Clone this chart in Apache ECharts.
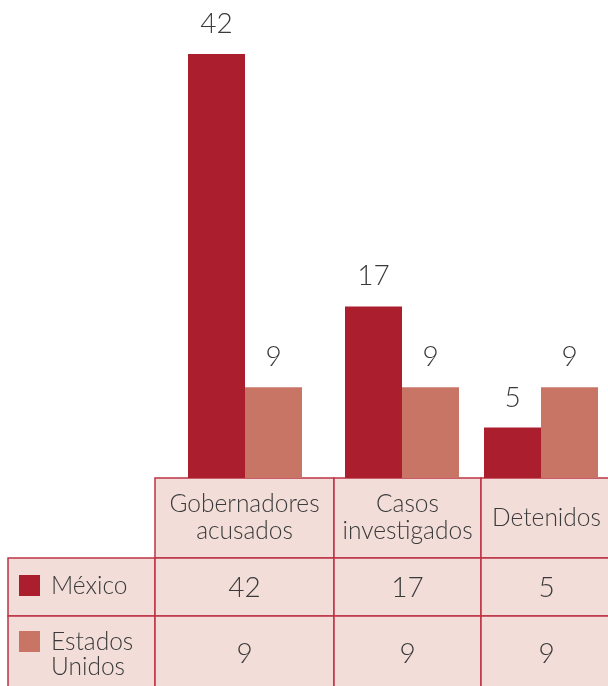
<!DOCTYPE html>
<html>
<head>
<meta charset="utf-8">
<script src="https://cdn.jsdelivr.net/npm/echarts@6/dist/echarts.min.js"></script>
<style>
  html, body { margin: 0; padding: 0; background: #ffffff; }
  #chart { width: 608px; height: 686px; }
</style>
</head>
<body>
<div id="chart"></div>
<script>
// Categories and values
const categories = ['Gobernadores\nacusados', 'Casos\ninvestigados', 'Detenidos'];
const seriesNames = ['México', 'Estados\nUnidos'];
const mexico = [42, 17, 5];
const estadosUnidos = [9, 9, 9];

// Styling
const COLOR_MX = '#ab1e2e';
const COLOR_US = '#c87566';
const CELL_FILL = '#f2ddd8';
const CELL_LINE = '#bd3345';
const TEXT = '#3a3a3a';
const FONT = 'Lato, "Open Sans", sans-serif';

// Table geometry (px)
const colEdges = [155, 334, 481, 612];
const legendLeft = 8;
const rowEdges = [478, 558, 616, 692];
const barCenters = [245, 402, 541];
const barWidth = 57;
const plotTop = 54;
const plotBottom = 478;

const chart = echarts.init(document.getElementById('chart'), null, { renderer: 'canvas' });

// One grid per category column so bars sit in their table columns
const grids = [], xAxes = [], yAxes = [], series = [];
categories.forEach((cat, i) => {
  const w = barWidth * 2 + 20;
  grids.push({ left: barCenters[i] - w / 2, width: w, top: plotTop, height: plotBottom - plotTop });
  xAxes.push({ gridIndex: i, type: 'category', data: [cat], show: false });
  yAxes.push({ gridIndex: i, type: 'value', min: 0, max: 42, show: false });
  const valueLabel = {
    show: true, position: 'top', distance: 16,
    color: TEXT, fontFamily: FONT, fontWeight: 300, fontSize: 28
  };
  series.push({
    type: 'bar', name: seriesNames[0], xAxisIndex: i, yAxisIndex: i,
    data: [mexico[i]], barWidth: barWidth, barGap: '0%',
    itemStyle: { color: COLOR_MX }, label: valueLabel, silent: true
  });
  series.push({
    type: 'bar', name: seriesNames[1], xAxisIndex: i, yAxisIndex: i,
    data: [estadosUnidos[i]], barWidth: barWidth, barGap: '0%',
    itemStyle: { color: COLOR_US }, label: valueLabel, silent: true
  });
});

// Data table under the bars
const graphic = [];
function cell(x, y, w, h) {
  graphic.push({
    type: 'rect', shape: { x: x, y: y, width: w, height: h },
    style: { fill: CELL_FILL, stroke: CELL_LINE, lineWidth: 1.5 }, silent: true
  });
}
function text(str, x, y, opts) {
  graphic.push({
    type: 'text', x: x, y: y, silent: true, z: 10,
    style: Object.assign({
      text: str, fill: TEXT, font: '300 24.5px ' + FONT,
      textAlign: 'center', textVerticalAlign: 'middle', lineHeight: 26
    }, opts || {})
  });
}
// header row
categories.forEach((cat, i) => {
  const x0 = colEdges[i], x1 = colEdges[i + 1];
  cell(x0, rowEdges[0], x1 - x0, rowEdges[1] - rowEdges[0]);
});
// legend + value rows
const rowsData = [mexico, estadosUnidos];
const rowColors = [COLOR_MX, COLOR_US];
rowsData.forEach((vals, r) => {
  const y0 = rowEdges[r + 1], y1 = rowEdges[r + 2];
  cell(legendLeft, y0, colEdges[0] - legendLeft, y1 - y0);
  vals.forEach((v, i) => cell(colEdges[i], y0, colEdges[i + 1] - colEdges[i], y1 - y0));
});
// header texts
categories.forEach((cat, i) => {
  const cx = (colEdges[i] + colEdges[i + 1]) / 2;
  text(cat, cx, 518, { lineHeight: 27 });
});
// legend entries and values
const rowTextY = [588, 654];
const swatchY = [575, 631];
rowsData.forEach((vals, r) => {
  graphic.push({
    type: 'rect', shape: { x: 19, y: swatchY[r], width: 21, height: 21 },
    style: { fill: rowColors[r] }, silent: true, z: 10
  });
  text(seriesNames[r], 51, r === 0 ? 586 : 655, { textAlign: 'left', lineHeight: 25 });
  vals.forEach((v, i) => {
    const cx = (colEdges[i] + colEdges[i + 1]) / 2;
    text(String(v), cx, rowTextY[r], { font: '300 28px ' + FONT });
  });
});

chart.setOption({
  animation: false,
  backgroundColor: '#ffffff',
  grid: grids,
  xAxis: xAxes,
  yAxis: yAxes,
  series: series,
  graphic: graphic
});
</script>
</body>
</html>
